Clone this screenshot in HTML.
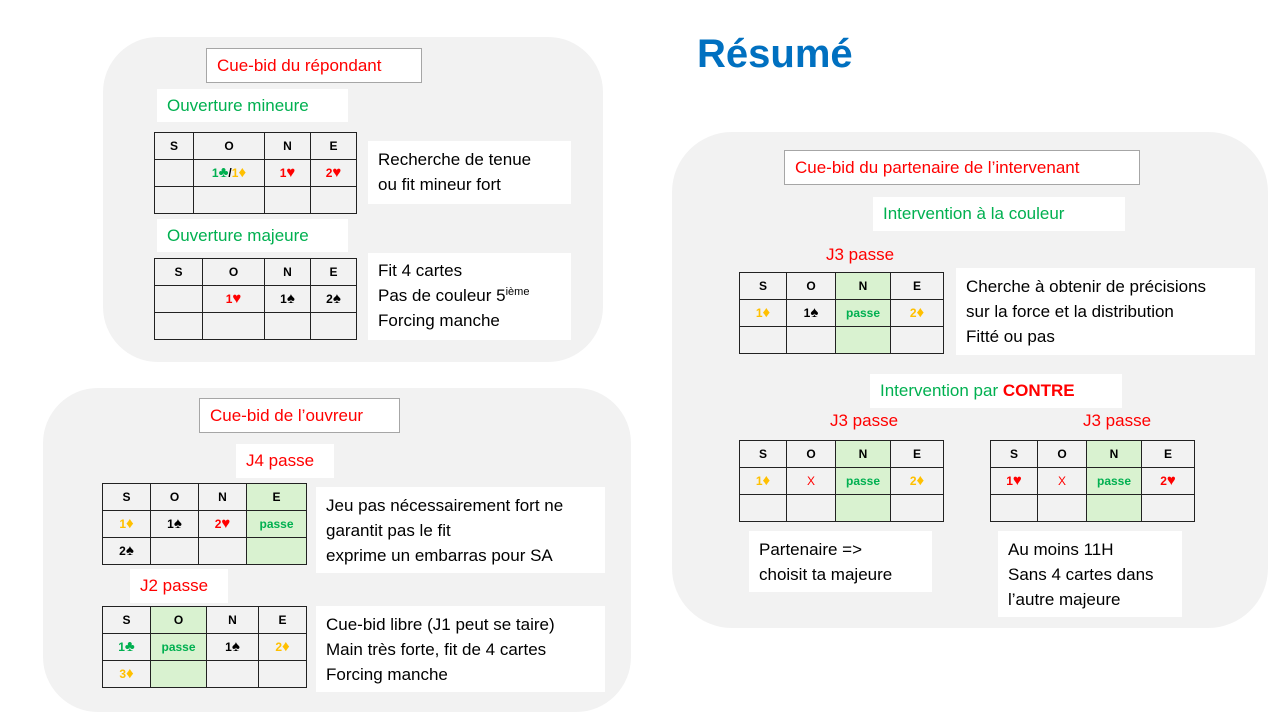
<!DOCTYPE html>
<html><head><meta charset="utf-8"><style>
body{margin:0;width:1280px;height:720px;background:#fff;position:relative;overflow:hidden;font-family:"Liberation Sans",sans-serif}
.p{position:absolute;background:#f2f2f2;border-radius:55px}
.b{position:absolute;background:#fff;box-sizing:border-box;font-size:17px;white-space:nowrap;display:flex;align-items:center;padding-left:10px}
.bd{border:1px solid #a6a6a6}
.r{color:#ff0000}.g{color:#00b050}.y{color:#ffc000}.k{color:#000}
.t{position:absolute;line-height:25px;font-size:17px;background:#fff;box-sizing:border-box;padding:6px 10px;white-space:nowrap}
table{position:absolute;border-collapse:collapse;table-layout:fixed}
td{border:1.5px solid #222;text-align:center;font-weight:bold;font-size:12px;padding:0;height:26px;line-height:14px}
td s{text-decoration:none;font-size:15px}
.gr{background:#d9f2d0}
.l{position:absolute;font-size:17px;color:#ff0000}
sup{font-size:11px;line-height:0;vertical-align:6px}
</style></head><body>
<div class="p" style="left:103px;top:37px;width:500px;height:325px"></div>
<div class="p" style="left:43px;top:388px;width:588px;height:324px"></div>
<div class="p" style="left:672px;top:132px;width:596px;height:496px;border-radius:60px"></div>
<div style="position:absolute;left:697px;top:32px;font-size:40px;font-weight:bold;color:#0070c0">Résumé</div>

<div class="b bd r" style="left:206px;top:48px;width:216px;height:35px">Cue-bid du répondant</div>
<div class="b g" style="left:157px;top:89px;width:191px;height:33px">Ouverture mineure</div>
<table style="left:154px;top:132px;width:202px"><col style="width:39px"><col style="width:71px"><col style="width:46px"><col style="width:46px">
<tr><td>S</td><td>O</td><td>N</td><td>E</td></tr>
<tr><td></td><td><span class="g">1<s>♣</s></span>/<span class="y">1<s>♦</s></span></td><td class="r">1<s>♥</s></td><td class="r">2<s>♥</s></td></tr>
<tr><td></td><td></td><td></td><td></td></tr></table>
<div class="t" style="left:368px;top:141px;width:203px;height:63px">Recherche de tenue<br>ou fit mineur fort</div>
<div class="b g" style="left:157px;top:219px;width:191px;height:33px">Ouverture majeure</div>
<table style="left:154px;top:258px;width:202px"><col style="width:48px"><col style="width:62px"><col style="width:46px"><col style="width:46px">
<tr><td>S</td><td>O</td><td>N</td><td>E</td></tr>
<tr><td></td><td class="r">1<s>♥</s></td><td>1<s>♠</s></td><td>2<s>♠</s></td></tr>
<tr><td></td><td></td><td></td><td></td></tr></table>
<div class="t" style="left:368px;top:253px;width:203px;height:87px;padding-top:5px">Fit 4 cartes<br>Pas de couleur 5<sup>ième</sup><br>Forcing manche</div>

<div class="b bd r" style="left:199px;top:398px;width:201px;height:35px">Cue-bid de l’ouvreur</div>
<div class="b r" style="left:236px;top:444px;width:98px;height:34px">J4 passe</div>
<table style="left:102px;top:483px;width:204px"><col style="width:48px"><col style="width:48px"><col style="width:48px"><col style="width:60px">
<tr><td>S</td><td>O</td><td>N</td><td class="gr">E</td></tr>
<tr><td class="y">1<s>♦</s></td><td>1<s>♠</s></td><td class="r">2<s>♥</s></td><td class="gr g">passe</td></tr>
<tr><td>2<s>♠</s></td><td></td><td></td><td class="gr"></td></tr></table>
<div class="t" style="left:316px;top:487px;width:289px;height:86px">Jeu pas nécessairement fort ne<br>garantit pas le fit<br>exprime un embarras pour SA</div>
<div class="b r" style="left:130px;top:569px;width:98px;height:34px">J2 passe</div>
<table style="left:102px;top:606px;width:204px"><col style="width:48px"><col style="width:56px"><col style="width:52px"><col style="width:48px">
<tr><td>S</td><td class="gr">O</td><td>N</td><td>E</td></tr>
<tr><td class="g">1<s>♣</s></td><td class="gr g">passe</td><td>1<s>♠</s></td><td class="y">2<s>♦</s></td></tr>
<tr><td class="y">3<s>♦</s></td><td class="gr"></td><td></td><td></td></tr></table>
<div class="t" style="left:316px;top:606px;width:289px;height:86px">Cue-bid libre (J1 peut se taire)<br>Main très forte, fit de 4 cartes<br>Forcing manche</div>

<div class="b bd r" style="left:784px;top:150px;width:356px;height:35px">Cue-bid du partenaire de l’intervenant</div>
<div class="b g" style="left:873px;top:197px;width:252px;height:34px">Intervention à la couleur</div>
<div class="l" style="left:826px;top:245px">J3 passe</div>
<table style="left:739px;top:272px;width:204px"><col style="width:47px"><col style="width:49px"><col style="width:55px"><col style="width:53px">
<tr><td>S</td><td>O</td><td class="gr">N</td><td>E</td></tr>
<tr><td class="y">1<s>♦</s></td><td>1<s>♠</s></td><td class="gr g">passe</td><td class="y">2<s>♦</s></td></tr>
<tr><td></td><td></td><td class="gr"></td><td></td></tr></table>
<div class="t" style="left:956px;top:268px;width:299px;height:87px">Cherche à obtenir de précisions<br>sur la force et la distribution<br>Fitté ou pas</div>
<div class="b g" style="left:870px;top:374px;width:252px;height:34px">Intervention par&nbsp;<b class="r">CONTRE</b></div>
<div class="l" style="left:830px;top:411px">J3 passe</div>
<div class="l" style="left:1083px;top:411px">J3 passe</div>
<table style="left:739px;top:440px;width:204px"><col style="width:47px"><col style="width:49px"><col style="width:55px"><col style="width:53px">
<tr><td>S</td><td>O</td><td class="gr">N</td><td>E</td></tr>
<tr><td class="y">1<s>♦</s></td><td class="r" style="font-weight:normal">X</td><td class="gr g">passe</td><td class="y">2<s>♦</s></td></tr>
<tr><td></td><td></td><td class="gr"></td><td></td></tr></table>
<table style="left:990px;top:440px;width:204px"><col style="width:47px"><col style="width:49px"><col style="width:55px"><col style="width:53px">
<tr><td>S</td><td>O</td><td class="gr">N</td><td>E</td></tr>
<tr><td class="r">1<s>♥</s></td><td class="r" style="font-weight:normal">X</td><td class="gr g">passe</td><td class="r">2<s>♥</s></td></tr>
<tr><td></td><td></td><td class="gr"></td><td></td></tr></table>
<div class="t" style="left:749px;top:531px;width:183px;height:61px">Partenaire =&gt;<br>choisit ta majeure</div>
<div class="t" style="left:998px;top:531px;width:184px;height:86px">Au moins 11H<br>Sans 4 cartes dans<br>l’autre majeure</div>
</body></html>
